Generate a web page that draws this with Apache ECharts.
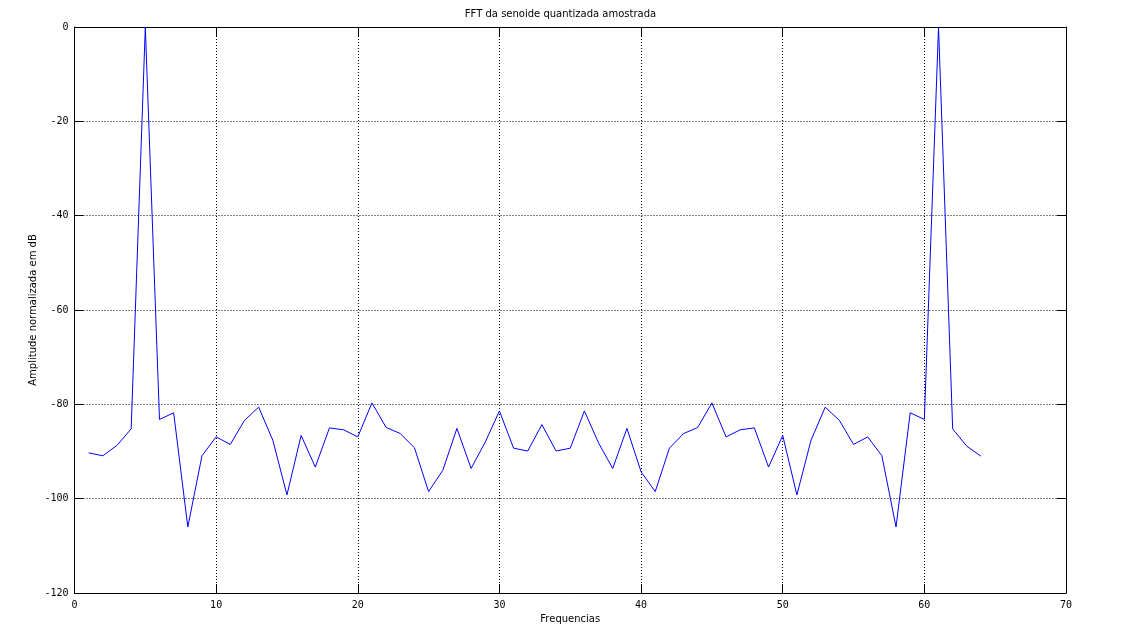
<!DOCTYPE html>
<html>
<head>
<meta charset="utf-8">
<script src="https://cdn.jsdelivr.net/npm/echarts@6/dist/echarts.min.js"></script>
<style>html,body{margin:0;padding:0;background:#fff;}#c{width:1121px;height:639px;}</style>
</head>
<body>
<div id="c"></div>
<script>
var titleText = "FFT da senoide quantizada amostrada";
var xName = "Frequencias";
var yName = "Amplitude normalizada em dB";
var freqs = [1,2,3,4,5,6,7,8,9,10,11,12,13,14,15,16,17,18,19,20,21,22,23,24,25,26,27,28,29,30,31,32,
             33,34,35,36,37,38,39,40,41,42,43,44,45,46,47,48,49,50,51,52,53,54,55,56,57,58,59,60,61,62,63,64];
var ampDb = [-90.3,-90.9,-88.7,-85.2,0,-83.2,-81.8,-106.0,-90.9,-86.9,-88.5,-83.4,-80.6,-87.6,-99.2,-86.6,
             -93.3,-85.0,-85.4,-86.9,-79.7,-84.9,-86.2,-89.2,-98.5,-94.0,-85.1,-93.6,-88.0,-81.4,-89.3,-89.9,
             -84.3,-89.9,-89.3,-81.4,-88.2,-93.6,-85.1,-94.3,-98.5,-89.3,-86.2,-84.9,-79.7,-86.9,-85.4,-85.0,
             -93.3,-86.6,-99.2,-87.6,-80.6,-83.4,-88.5,-86.9,-90.9,-106.0,-81.8,-83.2,0,-85.2,-88.9,-91.0];

var pts = freqs.map(function(f, i){ return [f, ampDb[i]]; });
var chart = echarts.init(document.getElementById('c'), null, {renderer:'canvas'});
var labFont = {fontFamily:'DejaVu Sans Mono', fontSize:10, color:'#000'};
var gridLine = {show:true, lineStyle:{color:'#000', width:1, type:[1,2]}};
chart.setOption({
  animation:false,
  backgroundColor:'#fff',
  title:{text:titleText, left:'center', top:4, textStyle:{fontFamily:'DejaVu Sans', fontSize:10, fontWeight:'normal', color:'#000'}},
  grid:{left:74.5, right:55, top:27, bottom:46, containLabel:false},
  xAxis:[{
    type:'value', min:0, max:70, interval:10, position:'bottom',
    name:xName, nameLocation:'middle', nameGap:21, nameMoveOverlap:false,
    nameTextStyle:{fontFamily:'DejaVu Sans', fontSize:10, color:'#000'},
    axisLine:{show:true, onZero:false, lineStyle:{color:'#000', width:1}},
    axisTick:{show:true, inside:true, length:9, lineStyle:{color:'#000'}},
    axisLabel:Object.assign({margin:7}, labFont),
    splitLine:gridLine
  },{
    type:'value', min:0, max:70, interval:10, position:'top',
    axisLine:{show:true, onZero:false, lineStyle:{color:'#000', width:1}},
    axisTick:{show:true, inside:true, length:9, lineStyle:{color:'#000'}},
    axisLabel:{show:false}, splitLine:{show:false}
  }],
  yAxis:[{
    type:'value', min:-120, max:0, interval:20, position:'left',
    name:yName, nameLocation:'middle', nameGap:36, nameRotate:90, nameMoveOverlap:false,
    nameTextStyle:{fontFamily:'DejaVu Sans', fontSize:10, color:'#000'},
    axisLine:{show:true, onZero:false, lineStyle:{color:'#000', width:1}},
    axisTick:{show:true, inside:true, length:9, lineStyle:{color:'#000'}},
    axisLabel:Object.assign({margin:6}, labFont),
    splitLine:gridLine
  },{
    type:'value', min:-120, max:0, interval:20, position:'right',
    axisLine:{show:true, onZero:false, lineStyle:{color:'#000', width:1}},
    axisTick:{show:true, inside:true, length:9, lineStyle:{color:'#000'}},
    axisLabel:{show:false}, splitLine:{show:false}
  }],
  series:[{
    type:'line', data:pts, xAxisIndex:0, yAxisIndex:0,
    showSymbol:false, symbol:'none',
    lineStyle:{color:'#0000ff', width:1},
    clip:true
  }]
});
</script>
</body>
</html>
